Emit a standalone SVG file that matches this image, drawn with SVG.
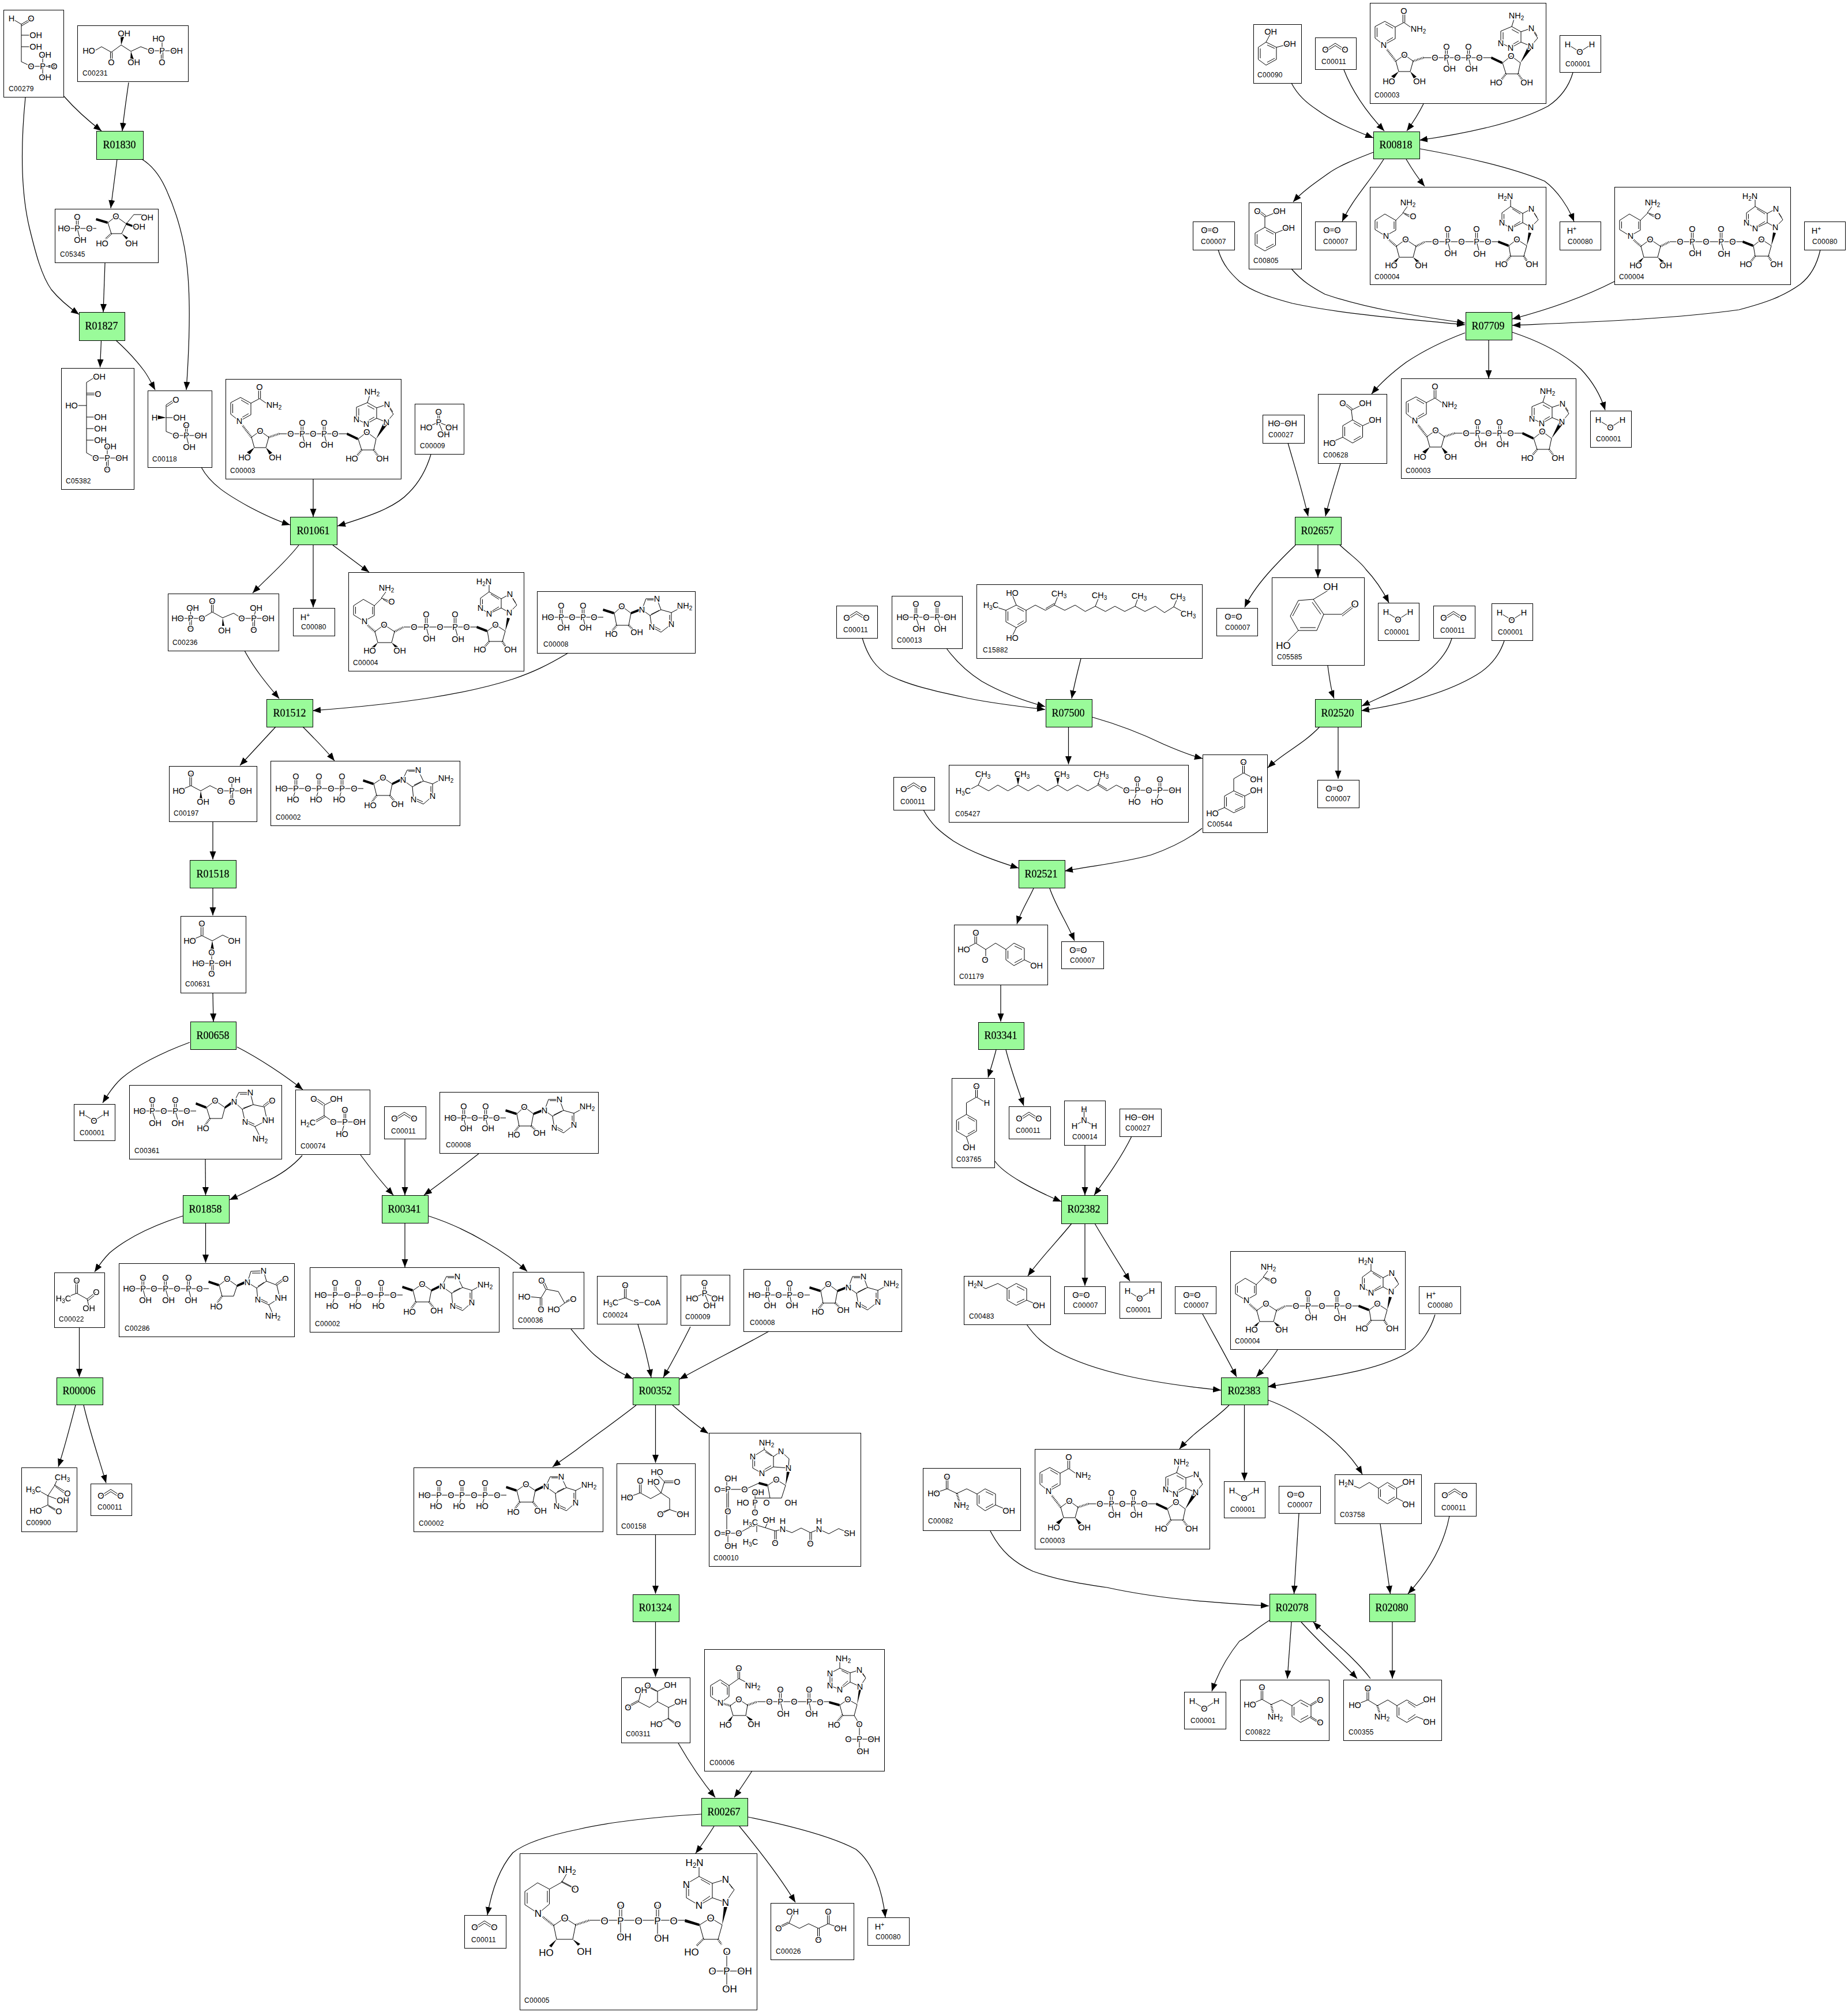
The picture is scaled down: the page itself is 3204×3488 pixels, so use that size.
<svg xmlns="http://www.w3.org/2000/svg" width="3204" height="3488" viewBox="0 0 3204 3488">
<style>
.n{fill:#fff;stroke:#000;stroke-width:1;shape-rendering:crispEdges}
.rx{fill:#9afb9a;stroke:#000;stroke-width:1;shape-rendering:crispEdges}
.b{fill:none;stroke:#000;stroke-width:1}
.w{fill:#000;stroke:none}
.h{fill:none;stroke:#000;stroke-width:3.5;stroke-dasharray:1 1.6}
.a text{font-family:"Liberation Sans",Arial,sans-serif;font-size:14.5px;text-anchor:middle;fill:#000;stroke:#fff;stroke-width:3px;paint-order:stroke}
.a tspan{font-size:10px}
.a2 text{font-size:17px}
.a2 tspan{font-size:12px}
.id{font-family:"Liberation Sans",Arial,sans-serif;font-size:12px;letter-spacing:.3px;fill:#000}
.rt{font-family:"Liberation Serif","Times New Roman",serif;font-size:18px;text-anchor:middle;fill:#000;stroke:#000;stroke-width:.25}
.e path{fill:none;stroke:#000;stroke-width:1.2;marker-end:url(#ah)}
#nodes{opacity:.999}
</style>
<defs>
<marker id="ah" markerUnits="userSpaceOnUse" markerWidth="15" markerHeight="12" refX="14" refY="5.500" orient="auto"><path d="M0,0L14,5.500L0,11Z" fill="#000"/></marker>
<g id="nad" class="a">
<path class="b" d="M24,73L9,61V41L26,32L44,42V62ZM12.500,43V59M27,36.500L40,44M40,60L29,66.500M44,42L59,34L72,43M57.300,34V20M60.700,34V20M45,101L60,90L75,101L70,119H50ZM93,95H211M131,95V80M134.400,95V80M133,95L137,110M169.300,95V80M172.700,95V80M171,95L175,110M230,104L245,92L261,104L257,123H236ZM246,41L227,49V69L244,78L262,68V50ZM231,51V67M246,46L258,52.500M262,50L280,44L291,61L279,75L262,68M258,66L245,73.500M246,41L250,28M283,46L290,57"/>
<polygon class="w" points="50,119 37,127 42,131"/><polygon class="w" points="70,119 76,131 81,128"/><polygon class="w" points="211,93 230,102 229,106 210,97"/><polygon class="w" points="261,104 274,76 280,80"/>
<path class="h" d="M45,101L29,80M75,101L93,95M236,123L228,133M257,123L264,133"/>
<text x="59" y="19">O</text><text x="84" y="50">NH<tspan dy="3">2</tspan></text><text x="24" y="78">N</text><text x="33" y="141">HO</text><text x="86" y="141">OH</text><text x="60" y="95">O</text><text x="113" y="100">O</text><text x="133" y="100">P</text><text x="133" y="81">O</text><text x="138" y="119">OH</text><text x="152" y="100">O</text><text x="171" y="100">P</text><text x="171" y="81">O</text><text x="176" y="119">OH</text><text x="190" y="100">O</text><text x="245" y="97">O</text><text x="219" y="143">HO</text><text x="272" y="143">OH</text><text x="279" y="80">N</text><text x="280" y="49">N</text><text x="244" y="83">N</text><text x="227" y="75">N</text><text x="254" y="27">NH<tspan dy="3">2</tspan></text>
</g>
<g id="nadh" class="a">
<path class="b" d="M27,85L9,74V58L26,47L45,58V75ZM12.500,60V72M42,60V73M45,58L58,45L74,51M57,45L65,34M60,47L72,54M46,103L62,91L80,103L75,122H51ZM96,95H223M133.300,95V78M136.700,95V78M135,95L139,110M183.300,95V78M186.700,95V78M185,95L189,110M241,102L255,91L272,102L267,120H244ZM244,34L229,45V62L244,72L265,62V46ZM232.500,47V60M247,38L261,47M265,46L280,38L292,57L279,70L265,62M261,60L248,68M244,34V22M283,42L290,53"/>
<polygon class="w" points="51,122 40,130 44,133"/><polygon class="w" points="75,122 82,132 86,129"/><polygon class="w" points="223,93 241,100 240,104 222,97"/><polygon class="w" points="272,102 275,79 280,80"/>
<path class="h" d="M46,103L31,90M80,103L96,95M244,120L236,130M267,120L273,130"/>
<text x="66" y="32">NH<tspan dy="3">2</tspan></text><text x="75" y="56">O</text><text x="28" y="90">N</text><text x="37" y="141">HO</text><text x="89" y="141">OH</text><text x="62" y="96">O</text><text x="114" y="100">O</text><text x="135" y="100">P</text><text x="135" y="78">O</text><text x="140" y="120">OH</text><text x="159" y="100">O</text><text x="185" y="100">P</text><text x="185" y="78">O</text><text x="190" y="121">OH</text><text x="205" y="100">O</text><text x="255" y="96">O</text><text x="228" y="139">HO</text><text x="281" y="139">OH</text><text x="279" y="75">N</text><text x="280" y="43">N</text><text x="244" y="77">N</text><text x="229" y="67">N</text><text x="235" y="21">H<tspan dy="3">2</tspan><tspan dy="-3" style="font-size:14.500px">N</tspan></text>
</g>
<g id="adp" class="a">
<path class="b" d="M19,45H115M40.300,45V30M43.700,45V30M42,45L45,58M78.300,45V30M81.700,45V30M80,45L83,58M134,38L147,26L163,38L159,59H138ZM182,32L189,13H208L215,32L196,42L182,32M191,15H206M212,33L198,40M196,42L199,62L215,71L233,57V37L215,32M202,60L214,67M230,41V54M233,37L250,28"/>
<polygon class="w" points="115,30 134,36 133,40 114,34"/><polygon class="w" points="163,36 178,30 179,34 163,40"/>
<path class="h" d="M138,59L131,68M159,59L167,67"/>
<text x="19" y="50">HO</text><text x="42" y="50">P</text><text x="42" y="30">O</text><text x="46" y="68">OH</text><text x="61" y="50">O</text><text x="80" y="50">P</text><text x="80" y="30">O</text><text x="84" y="68">OH</text><text x="99" y="50">O</text><text x="147" y="31">O</text><text x="129" y="79">HO</text><text x="173" y="76">OH</text><text x="182" y="37">N</text><text x="208" y="18">N</text><text x="199" y="67">N</text><text x="233" y="62">N</text><text x="256" y="30">NH<tspan dy="3">2</tspan></text>
</g>
<g id="atp" class="a">
<path class="b" d="M19,48H161M42.300,48V32M45.700,48V32M44,48L40,62M82.300,48V32M85.700,48V32M84,48L80,62M122.300,48V32M125.700,48V32M124,48L120,62M179,40L195,29L211,40L207,60H184ZM229,33L237,16H256L265,35L246,45L229,33M239,18H254M261,36L249,42M246,45L248,67L265,75L281,61V40L265,35M251,65L264,71M278,44V57M281,40L296,32"/>
<polygon class="w" points="161,32 179,38 178,42 160,36"/><polygon class="w" points="211,38 225,31 226,35 211,42"/>
<path class="h" d="M184,60L176,71M207,60L215,70"/>
<text x="19" y="53">HO</text><text x="44" y="53">P</text><text x="44" y="32">O</text><text x="39" y="72">HO</text><text x="65" y="53">O</text><text x="84" y="53">P</text><text x="84" y="32">O</text><text x="79" y="72">HO</text><text x="105" y="53">O</text><text x="124" y="53">P</text><text x="124" y="32">O</text><text x="119" y="72">HO</text><text x="145" y="53">O</text><text x="195" y="34">O</text><text x="173" y="82">HO</text><text x="220" y="80">OH</text><text x="230" y="38">N</text><text x="256" y="21">N</text><text x="248" y="72">N</text><text x="281" y="66">N</text><text x="304" y="35">NH<tspan dy="3">2</tspan></text>
</g>
<g id="h2o" class="a"><path class="b" d="M14,16L35,29L55,16"/><text x="14" y="21">H</text><text x="35" y="34">O</text><text x="56" y="21">H</text></g>
<g id="co2" class="a"><path class="b" d="M18,21L35,10L52,21M21,23L35,14L49,23"/><text x="18" y="26">O</text><text x="52" y="26">O</text></g>
<g id="o2" class="a"><path class="b" d="M20,13H39M20,16H39"/><text x="20" y="20">O</text><text x="39" y="20">O</text></g>
<g id="hp" class="a"><text x="21" y="21">H<tspan dy="-5">+</tspan></text></g>
<g id="pi" class="a"><path class="b" d="M40,14V32M43,14V32M41.500,32L20,41M41.500,32L64,41M41.500,32L50,53"/><text x="41.500" y="19">O</text><text x="41.500" y="37">P</text><text x="20" y="46">HO</text><text x="64" y="46">OH</text><text x="50" y="58">OH</text></g>
<g id="hooh" class="a"><path class="b" d="M22,15H47"/><text x="20" y="20">HO</text><text x="49" y="20">OH</text></g>
</defs>
<g id="nodes">
<g id="C00279-a" transform="translate(6,17)"><rect class="n" width="104" height="151"/><g class="a"><path class="b" d="M14,15L31,25L48,15M31,28L48,18M31,25V90L48,98H87M68,78V117M78,96.500H90M78,99.500H90M31,44H45M31,64H45"/><text x="14" y="20">H</text><text x="48" y="20">O</text><text x="56" y="49">OH</text><text x="56" y="69">OH</text><text x="48" y="103">O</text><text x="68" y="103">P</text><text x="88" y="103">O</text><text x="72" y="83">OH</text><text x="72" y="122">OH</text></g><text class="id" x="9" y="141">C00279</text></g>
<g id="C00231-a" transform="translate(134,44)"><rect class="n" width="192" height="97"/><g class="a"><path class="b" d="M30,44L42,37L59,46.500L76,34L93,45L110,37L128,44H171M57.500,46.500V60M60.500,46.500V60M147,28V44M145.500,44V60M148.500,44V60"/><polygon class="w" points="76,34 75,20 81,20"/><polygon class="w" points="93,45 92,59 98,59"/><text x="20" y="49">HO</text><text x="59" y="69">O</text><text x="81" y="19">OH</text><text x="98" y="69">OH</text><text x="128" y="49">O</text><text x="147" y="49">P</text><text x="141" y="28">HO</text><text x="172" y="49">OH</text><text x="147" y="69">O</text></g><text class="id" x="9" y="87">C00231</text></g>
<g id="C05345-a" transform="translate(95,362)"><rect class="n" width="179" height="93"/><g class="a"><path class="b" d="M16,34H72M37.300,34V15M40.700,34V15M39,34L43,50M92,24L106,13L124,26L116,43H98ZM124,26L137,10H152"/><polygon class="w" points="72,16 92,22 91,26 71,20"/><polygon class="w" points="124,24 140,30 139,33 124,28"/><polygon class="w" points="116,43 124,53 127,50"/><path class="h" d="M98,43L88,52"/><text x="16" y="39">HO</text><text x="39" y="39">P</text><text x="39" y="19">O</text><text x="44" y="59">OH</text><text x="60" y="39">O</text><text x="106" y="18">O</text><text x="82" y="65">HO</text><text x="133" y="65">OH</text><text x="146" y="36">OH</text><text x="160" y="20">OH</text></g><text class="id" x="9" y="83">C05345</text></g>
<g id="C05382-a" transform="translate(106,638)"><rect class="n" width="126" height="210"/><g class="a"><path class="b" d="M44,25L60,15M44,25V147L60,156H105M44,43.500H63M44,46.500H63M28,65H44M44,85H60M44,105H60M44,125H60M78.500,156V176M81.500,156V176M80,136V156"/><text x="66" y="20">OH</text><text x="64" y="50">O</text><text x="18" y="70">HO</text><text x="68" y="90">OH</text><text x="68" y="110">OH</text><text x="68" y="130">OH</text><text x="60" y="161">O</text><text x="80" y="161">P</text><text x="85" y="141">OH</text><text x="105" y="161">OH</text><text x="80" y="181">O</text></g><text class="id" x="8" y="200">C05382</text></g>
<g id="C00118-a" transform="translate(256,677)"><rect class="n" width="111" height="133"/><g class="a"><path class="b" d="M32,25L47,15M33,28L48,18M32,25V71L49,78H92M65.500,60V78M68.500,60V78M67,78L71,94M32,47H48"/><polygon class="w" points="32,47 17,43 17,50"/><text x="49" y="21">O</text><text x="12" y="52">H</text><text x="55" y="52">OH</text><text x="49" y="83">O</text><text x="67" y="83">P</text><text x="67" y="65">O</text><text x="92" y="83">OH</text><text x="72" y="103">OH</text></g><text class="id" x="8" y="123">C00118</text></g>
<g id="C00003-a" transform="translate(391,657)"><rect class="n" width="304" height="173"/><use href="#nad"/><text class="id" x="8" y="163">C00003</text></g>
<g id="C00009-a" transform="translate(719,700)"><rect class="n" width="85" height="87"/><use href="#pi"/><text class="id" x="9" y="77">C00009</text></g>
<g id="C00236-a" transform="translate(291,1029)"><rect class="n" width="192" height="99"/><g class="a"><path class="b" d="M17,43H59L77,32L95,42L114,34L128,43H174M38,43V61M41,43V61M39.500,25V43M75.500,32V13M78.500,32V13M147.500,43V63M150.500,43V63M149,43L153,25"/><polygon class="w" points="95,42 94,56 98,56"/><text x="17" y="48">HO</text><text x="39.500" y="48">P</text><text x="43" y="30">OH</text><text x="39.500" y="66">O</text><text x="59" y="48">O</text><text x="77" y="18">O</text><text x="98" y="69">OH</text><text x="128" y="48">O</text><text x="149" y="48">P</text><text x="153" y="30">OH</text><text x="174" y="48">OH</text><text x="149" y="68">O</text></g><text class="id" x="8" y="89">C00236</text></g>
<g id="C00080-a" transform="translate(508,1054)"><rect class="n" width="72" height="48"/><use href="#hp"/><text class="id" x="14" y="37">C00080</text></g>
<g id="C00004-a" transform="translate(604,992)"><rect class="n" width="304" height="171"/><use href="#nadh"/><text class="id" x="8" y="161">C00004</text></g>
<g id="C00008-a" transform="translate(931,1025)"><rect class="n" width="274" height="107"/><use href="#adp"/><text class="id" x="11" y="96">C00008</text></g>
<g id="C00197-a" transform="translate(293,1328)"><rect class="n" width="152" height="96"/><g class="a"><path class="b" d="M17,43L38,34L55,43L71,34L89,43H133M36,34V13M39,34V13M107.500,43V62M110.500,43V62M109,24V43"/><polygon class="w" points="55,43 53,58 58,58"/><text x="17" y="48">HO</text><text x="38" y="18">O</text><text x="59" y="67">OH</text><text x="89" y="48">O</text><text x="109" y="48">P</text><text x="113" y="29">OH</text><text x="133" y="48">OH</text><text x="109" y="67">O</text></g><text class="id" x="8" y="86">C00197</text></g>
<g id="C00002-a" transform="translate(469,1319)"><rect class="n" width="328" height="112"/><use href="#atp"/><text class="id" x="9" y="102">C00002</text></g>
<g id="C00631-a" transform="translate(313,1588)"><rect class="n" width="113" height="133"/><g class="a"><path class="b" d="M16,43L37,34L55,43L73,33L93,43M35.500,34V13M39,34V13M31,82H77M54,82V100M57,82V100M54,63V82"/><polygon class="w" points="55,43 52,58 58,58"/><text x="16" y="48">HO</text><text x="37" y="18">O</text><text x="93" y="48">OH</text><text x="54" y="68">O</text><text x="54" y="87">P</text><text x="31" y="87">HO</text><text x="77" y="87">OH</text><text x="54" y="105">O</text></g><text class="id" x="8" y="122">C00631</text></g>
<g id="C00001-c" transform="translate(128,1914)"><rect class="n" width="71" height="63"/><use href="#h2o"/><text class="id" x="10" y="54">C00001</text></g>
<g id="C00361-a" transform="translate(224,1881)"><rect class="n" width="264" height="128"/><g class="a"><path class="b" d="M17,45H116M38.300,45V26M41.700,45V26M40,45L45,60M78.300,45V26M81.700,45V26M80,45L84,60M134,39L149,27L166,39L161,58H140ZM182,29L190,13H210L215,34L196,42L182,29M192,16H208M212,35L198,40M196,42L201,64L218,72L239,61L234,38L215,34M204,62L217,68M234,38L248,27M232,36L246,25M218,72L227,90"/><polygon class="w" points="116,30 134,37 133,41 115,34"/><polygon class="w" points="166,37 178,28 180,32 166,41"/><path class="h" d="M140,58L130,72"/><text x="18" y="50">HO</text><text x="40" y="50">P</text><text x="40" y="31">O</text><text x="45" y="71">OH</text><text x="60" y="50">O</text><text x="80" y="50">P</text><text x="80" y="31">O</text><text x="84" y="71">OH</text><text x="100" y="50">O</text><text x="149" y="32">O</text><text x="128" y="80">HO</text><text x="182" y="34">N</text><text x="210" y="18">N</text><text x="201" y="69">N</text><text x="241" y="66">NH</text><text x="248" y="32">O</text><text x="227" y="98">NH<tspan dy="3">2</tspan></text></g><text class="id" x="9" y="118">C00361</text></g>
<g id="C00074-a" transform="translate(512,1889)"><rect class="n" width="129" height="112"/><g class="a"><path class="b" d="M32,16L48,27M35,14L51,25M50,27L71,16M50,27V45M50,45L66,56H111M50,45L34,54M52,47L36,56M84.500,56V35M87.500,56V35M86,56L81,73"/><text x="32" y="21">O</text><text x="71" y="21">OH</text><text x="22" y="62">H<tspan dy="3">2</tspan><tspan dy="-3" style="font-size:14.500px">C</tspan></text><text x="66" y="61">O</text><text x="86" y="61">P</text><text x="86" y="40">O</text><text x="111" y="61">OH</text><text x="81" y="82">HO</text></g><text class="id" x="9" y="102">C00074</text></g>
<g id="C00011-d" transform="translate(666,1918)"><rect class="n" width="72" height="56"/><use href="#co2"/><text class="id" x="12" y="47">C00011</text></g>
<g id="C00008-b" transform="translate(762,1893)"><rect class="n" width="275" height="106"/><use href="#adp"/><text class="id" x="11" y="96">C00008</text></g>
<g id="C00022-a" transform="translate(94,2206)"><rect class="n" width="87" height="95"/><g class="a"><path class="b" d="M37.500,14V36M40.500,14V36M26,41L39,36L57,46L72,34M58,49L73,37M57,46L60,58"/><text x="39" y="19">O</text><text x="16" y="50">H<tspan dy="3">3</tspan><tspan dy="-3" style="font-size:14.500px">C</tspan></text><text x="73" y="39">O</text><text x="60" y="67">OH</text></g><text class="id" x="8" y="85">C00022</text></g>
<g id="C00286-a" transform="translate(206,2190)"><rect class="n" width="304" height="127"/><g class="a"><path class="b" d="M18,44H156M40,44V25M43.400,44V25M41.700,44L46,60M79,44V25M82.400,44V25M80.700,44L85.700,60M119,44V25M122.400,44V25M120.700,44L125,60M174,38L188,27L205,39L199,57H179ZM223,33L229,14L251,13L256,31L239,43L223,33M231,17H249M252,33L241,40M239,43L241,63L260,72L279,60L274,38L256,31M244,61L258,68M274,38L289,27M272,36L287,25M260,72L267,88"/><polygon class="w" points="156,30 174,36 173,40 155,34"/><polygon class="w" points="205,37 218,31 220,35 205,41"/><path class="h" d="M179,57L171,68"/><text x="18" y="49">HO</text><text x="42" y="49">P</text><text x="42" y="30">O</text><text x="46" y="69">OH</text><text x="61" y="49">O</text><text x="81" y="49">P</text><text x="81" y="30">O</text><text x="86" y="69">OH</text><text x="101" y="49">O</text><text x="121" y="49">P</text><text x="121" y="30">O</text><text x="125" y="69">OH</text><text x="140" y="49">O</text><text x="188" y="32">O</text><text x="169" y="80">HO</text><text x="223" y="38">N</text><text x="251" y="18">N</text><text x="241" y="68">N</text><text x="281" y="65">NH</text><text x="289" y="32">O</text><text x="267" y="96">NH<tspan dy="3">2</tspan></text></g><text class="id" x="10" y="117">C00286</text></g>
<g id="C00002-b" transform="translate(537,2197)"><rect class="n" width="328" height="112"/><use href="#atp"/><text class="id" x="9" y="102">C00002</text></g>
<g id="C00036-a" transform="translate(889,2205)"><rect class="n" width="123" height="98"/><g class="a"><path class="b" d="M30,43L49,45L58,30L79,34L90,54L104,47M47.500,45V65M50.500,45V65M57,30L50,15M60,29L53,14M90,54L78,63M92,51L105,44"/><text x="20" y="48">HO</text><text x="49" y="70">O</text><text x="50" y="20">O</text><text x="105" y="52">O</text><text x="71" y="70">HO</text></g><text class="id" x="9" y="88">C00036</text></g>
<g id="C00024-a" transform="translate(1035,2212)"><rect class="n" width="121" height="83"/><g class="a"><path class="b" d="M47.500,16V38M50.500,16V38M30,44L49,38L68,46H82"/><text x="49" y="21">O</text><text x="24" y="51">H<tspan dy="3">3</tspan><tspan dy="-3" style="font-size:14.500px">C</tspan></text><text x="68" y="51">S</text><text x="96" y="51">CoA</text></g><text class="id" x="10" y="72">C00024</text></g>
<g id="C00009-b" transform="translate(1180,2210)"><rect class="n" width="85" height="87"/><use href="#pi"/><text class="id" x="8" y="77">C00009</text></g>
<g id="C00008-c" transform="translate(1289,2200)"><rect class="n" width="274" height="108"/><use href="#adp"/><text class="id" x="11" y="97">C00008</text></g>
<g id="C00900-a" transform="translate(37,2544)"><rect class="n" width="96" height="111"/><g class="a"><path class="b" d="M62,21L58,31L46,49L30,40M57,30L78,43M59,33L76,46M46,49L62,55M46,49V65L31,72M46,65L62,74M47,67L63,77"/><text x="71" y="22">CH<tspan dy="3">3</tspan></text><text x="80" y="50">O</text><text x="21" y="43">H<tspan dy="3">3</tspan><tspan dy="-3" style="font-size:14.500px">C</tspan></text><text x="72" y="62">OH</text><text x="25" y="80">HO</text><text x="65" y="81">O</text></g><text class="id" x="8" y="100">C00900</text></g>
<g id="C00011-c" transform="translate(157,2572)"><rect class="n" width="71" height="55"/><use href="#co2"/><text class="id" x="12" y="45">C00011</text></g>
<g id="C00002-c" transform="translate(717,2544)"><rect class="n" width="328" height="111"/><use href="#atp"/><text class="id" x="9" y="101">C00002</text></g>
<g id="C00158-a" transform="translate(1069,2537)"><rect class="n" width="136" height="123"/><g class="a"><path class="b" d="M77,51L83,32L70,18M83,30.500H103M83,33.500H103M77,51L65,37M77,51L59,61L41,51L19,59M39.500,51V31M42.500,51V31M77,51L92,61V80L76,88M90.500,80L75,86M92,80L115,88"/><text x="70" y="20">HO</text><text x="105" y="37">O</text><text x="64" y="37">HO</text><text x="41" y="35">O</text><text x="18" y="64">HO</text><text x="76" y="93">O</text><text x="115" y="93">OH</text></g><text class="id" x="8" y="113">C00158</text></g>
<g id="C00010-a" transform="translate(1229,2484)"><rect class="n" width="263" height="231"/><g class="a"><path class="b" d="M96,29L76,41.500V61L92,70L112,59V41ZM79.500,44V58M98,33L109,40M108,57L94,65M112,41L125,32L139,45L138,61L112,59M96,29V22M102,91L117,81L133,91L126,113H106ZM87,87L63,98H33M31,79V174M34,98V136M16,96.500H33M16,99.500H33M16,172.500H33M16,175.500H33M33,174H52L68,165L83,160L99.500,165L115,170L128,167L144,173L160,165L176,173L191,167L208,175L225,166L244,174M83,160V150M83,160L83,172M97.500,165L102,155M114,170V191M117,170V191M175,173V192M178,173V192M106,113H80M80,103V138M33,174V196"/><polygon class="w" points="133,91 135,67 140,68"/><polygon class="w" points="87,85 102,89 101,93 86,89"/><text x="100" y="22">NH<tspan dy="3">2</tspan></text><text x="76" y="46">N</text><text x="92" y="75">N</text><text x="125" y="37">N</text><text x="138" y="66">N</text><text x="117" y="86">O</text><text x="142" y="126">OH</text><text x="62" y="103">O</text><text x="33" y="103">P</text><text x="15" y="103">O</text><text x="38" y="84">OH</text><text x="33" y="141">O</text><text x="33" y="179">P</text><text x="15" y="179">O</text><text x="38" y="201">OH</text><text x="52" y="179">O</text><text x="100" y="126">O</text><text x="80" y="126">P</text><text x="59" y="126">HO</text><text x="85" y="108">OH</text><text x="80" y="143">O</text><text x="72" y="160">H<tspan dy="3">3</tspan><tspan dy="-3" style="font-size:14.500px">C</tspan></text><text x="72" y="194">H<tspan dy="3">3</tspan><tspan dy="-3" style="font-size:14.500px">C</tspan></text><text x="104" y="156">OH</text><text x="115" y="196">O</text><text x="128" y="172">N</text><text x="128" y="158">H</text><text x="176" y="197">O</text><text x="191" y="172">N</text><text x="191" y="158">H</text><text x="244" y="179">SH</text></g><text class="id" x="8" y="221">C00010</text></g>
<g id="C00311-a" transform="translate(1077,2908)"><rect class="n" width="119" height="113"/><g class="a"><path class="b" d="M34,27L30,42L12,52M29,40L11,50M30,42L49,52L63,42L82,52V71L98,81M80.500,71L96,83M82,71L61,81M63,42V24L46,14M61.500,24L45,16M63,24L85,13M82,52L103,42"/><text x="34" y="27">OH</text><text x="12" y="57">O</text><text x="46" y="19">O</text><text x="85" y="18">OH</text><text x="103" y="47">OH</text><text x="61" y="86">HO</text><text x="98" y="86">O</text></g><text class="id" x="8" y="102">C00311</text></g>
<g id="C00006-a" transform="translate(1221,2859)"><rect class="n" width="312" height="211"/><g class="a"><path class="b" d="M27.500,93L11,82V63L27.500,53L43,63V82L30,92M14.500,65V80M29,58L40,65M40,66V79M43,63L60,51L84,63M58.500,51V33M61.500,51V33M45,98L60,87L75,97L72,115H50ZM92,91H217M130.300,91V70M133.700,91V70M132,91L136,107M180,91V70M183.300,91V70M181.600,91L185,107M235,97L249,87L265,96L260,115H240ZM260,115L269,130V178M250,156H294M235,33L218,42V63L235,70L253,57V41ZM221.500,45V60M238,37L250,43M249,55L237,66M253,41L269,36L280,50L270,65L253,57M235,33V22M272,38L279,48"/><polygon class="w" points="50,115 40,125 44,128"/><polygon class="w" points="72,115 80,125 84,122"/><polygon class="w" points="217,90 235,95 234,99 216,94"/><polygon class="w" points="265,96 268,70 272,70"/><path class="h" d="M45,98L31,94M75,97L92,91M240,114L231,125"/><text x="60" y="38">O</text><text x="84" y="68">NH<tspan dy="3">2</tspan></text><text x="28" y="98">N</text><text x="37" y="136">HO</text><text x="86" y="135">OH</text><text x="60" y="92">O</text><text x="113" y="96">O</text><text x="132" y="96">P</text><text x="132" y="75">O</text><text x="137" y="117">OH</text><text x="156" y="96">O</text><text x="182" y="96">P</text><text x="182" y="75">O</text><text x="186" y="117">OH</text><text x="201" y="97">O</text><text x="249" y="92">O</text><text x="225" y="136">HO</text><text x="269" y="135">O</text><text x="269" y="161">P</text><text x="250" y="161">O</text><text x="294" y="161">OH</text><text x="275" y="182">OH</text><text x="270" y="70">N</text><text x="269" y="41">N</text><text x="235" y="75">N</text><text x="218" y="68">N</text><text x="218" y="47">N</text><text x="241" y="21">NH<tspan dy="3">2</tspan></text></g><text class="id" x="9" y="201">C00006</text></g>
<g id="C00011-e" transform="translate(805,3320)"><rect class="n" width="72" height="57"/><use href="#co2"/><text class="id" x="12" y="47">C00011</text></g>
<g id="C00005-a" transform="translate(901,3213)"><rect class="n" width="411" height="271"/><g class="a a2"><path class="b" d="M32,104L9,89V66L31,51L51.500,62V88L36,101M13,68V87M48,65V85M51.500,62L73,50L96,62M73,50L81,36M72,48L95,60M59,125L78,112L97,124L92,149H64ZM121,116H287M173,117V90M177,117V90M175,117V145M237,117V90M241,117V90M239,117V146M312,124L331,112L351,124L344,149H319ZM359,170V234M334,204H390M311,40L289,53V77L311,90L334,77V52ZM293,56V74M314,45L330,54M330,74L314,85M334,52L357,45L372,63L357,85L334,77M311,40V24M360,48L369,61"/><polygon class="w" points="64,149 51,160 55,163"/><polygon class="w" points="92,149 101,160 105,157"/><polygon class="w" points="287,114 312,122 311,126 286,119"/><polygon class="w" points="351,124 354,93 360,93"/><path class="h" d="M59,125L40,110M97,124L121,116M319,148L307,160M344,149L350,158"/><text x="82" y="34">NH<tspan dy="3">2</tspan></text><text x="96" y="68">O</text><text x="32" y="110">N</text><text x="46" y="178">HO</text><text x="112" y="176">OH</text><text x="78" y="118">O</text><text x="147" y="123">O</text><text x="175" y="123">P</text><text x="175" y="96">O</text><text x="181" y="151">OH</text><text x="206" y="123">O</text><text x="239" y="123">P</text><text x="239" y="96">O</text><text x="246" y="153">OH</text><text x="267" y="123">O</text><text x="331" y="118">O</text><text x="298" y="177">HO</text><text x="359" y="176">O</text><text x="359" y="210">P</text><text x="334" y="210">O</text><text x="390" y="210">OH</text><text x="364" y="241">OH</text><text x="357" y="91">N</text><text x="357" y="51">N</text><text x="311" y="96">N</text><text x="289" y="60">N</text><text x="303" y="22">H<tspan dy="3">2</tspan><tspan dy="-3" style="font-size:17px">N</tspan></text></g><text class="id" x="8" y="259">C00005</text></g>
<g id="C00026-a" transform="translate(1336,3299)"><rect class="n" width="144" height="98"/><g class="a"><path class="b" d="M38,20L32,35L14,44M31,33L13,42M32,35L50,44L66,36L83,44L100,36L121,44M81.500,44V64M84.500,44V64M98.500,36V15M101.500,36V15"/><text x="38" y="20">OH</text><text x="14" y="49">O</text><text x="83" y="69">O</text><text x="100" y="20">O</text><text x="121" y="49">OH</text></g><text class="id" x="9" y="88">C00026</text></g>
<g id="C00080-e" transform="translate(1504,3324)"><rect class="n" width="72" height="48"/><use href="#hp"/><text class="id" x="14" y="38">C00080</text></g>
<g id="C00090-a" transform="translate(2173,42)"><rect class="n" width="83" height="102"/><g class="a"><path class="b" d="M30,16L22,31L40,40V61L22,71L8.500,61V40L22,31M12,42V59M24,36L37,42M37,59L24,66M40,40L63,34"/><text x="30" y="18">OH</text><text x="63" y="39">OH</text></g><text class="id" x="7" y="92">C00090</text></g>
<g id="C00011-a" transform="translate(2280,65)"><rect class="n" width="71" height="55"/><use href="#co2"/><text class="id" x="11" y="46">C00011</text></g>
<g id="C00003-e" transform="translate(2375,5)"><rect class="n" width="305" height="174"/><use href="#nad"/><text class="id" x="8" y="164">C00003</text></g>
<g id="C00001-a" transform="translate(2704,61)"><rect class="n" width="71" height="64"/><use href="#h2o"/><text class="id" x="10" y="54">C00001</text></g>
<g id="C00805-a" transform="translate(2165,351)"><rect class="n" width="91" height="115"/><g class="a"><path class="b" d="M15,15L28,25L53,15M17,13L30,23M28,25V43M28,43L46.500,53V74L28,84L11,74V53ZM14.500,55V72M30,48L43,55M43,72L30,79M46.500,53L69,44"/><text x="15" y="20">O</text><text x="53" y="20">OH</text><text x="69" y="49">OH</text></g><text class="id" x="8" y="105">C00805</text></g>
<g id="C00007-a" transform="translate(2280,384)"><rect class="n" width="71" height="49"/><use href="#o2"/><text class="id" x="14" y="39">C00007</text></g>
<g id="C00004-b" transform="translate(2375,324)"><rect class="n" width="305" height="169"/><use href="#nadh"/><text class="id" x="8" y="160">C00004</text></g>
<g id="C00080-a2" transform="translate(2704,384)"><rect class="n" width="71" height="49"/><use href="#hp"/><text class="id" x="14" y="39">C00080</text></g>
<g id="C00007-b" transform="translate(2068,384)"><rect class="n" width="72" height="49"/><use href="#o2"/><text class="id" x="14" y="39">C00007</text></g>
<g id="C00004-c" transform="translate(2799,324)"><rect class="n" width="305" height="169"/><use href="#nadh"/><text class="id" x="8" y="160">C00004</text></g>
<g id="C00080-b" transform="translate(3128,384)"><rect class="n" width="71" height="49"/><use href="#hp"/><text class="id" x="14" y="39">C00080</text></g>
<g id="C00628-a" transform="translate(2285,683)"><rect class="n" width="119" height="120"/><g class="a"><path class="b" d="M43,16L58,28L82,16M45,14L60,26M58,28L60,45L77.500,55V75L60,85L43,75V55L60,45M46.500,57V73M62,50L74,57M74,73L62,80M77.500,55L99,45M43,75L20,85"/><text x="43" y="21">O</text><text x="82" y="21">OH</text><text x="99" y="50">OH</text><text x="20" y="90">HO</text></g><text class="id" x="9" y="110">C00628</text></g>
<g id="C00003-f" transform="translate(2429,656)"><rect class="n" width="303" height="173"/><use href="#nad"/><text class="id" x="8" y="164">C00003</text></g>
<g id="C00001-b" transform="translate(2757,712)"><rect class="n" width="71" height="63"/><use href="#h2o"/><text class="id" x="10" y="53">C00001</text></g>
<g id="C00027-a" transform="translate(2189,719)"><rect class="n" width="72" height="49"/><use href="#hooh"/><text class="id" x="10" y="39">C00027</text></g>
<g id="C00007-c" transform="translate(2109,1054)"><rect class="n" width="71" height="48"/><use href="#o2"/><text class="id" x="15" y="38">C00007</text></g>
<g id="C05585-a" transform="translate(2205,1001)"><rect class="n" width="160" height="152"/><g class="a a2"><path class="b" d="M102,20L72,38L90,64L78,92H46L32,67L46,40L72,38M36,67L48,45M70,43L85,64M76,87H49M90,64H121L144,46M122,67L145,49M46,92L20,118"/><text x="102" y="22">OH</text><text x="144" y="52">O</text><text x="20" y="124">HO</text></g><text class="id" x="9" y="142">C05585</text></g>
<g id="C00001-d" transform="translate(2389,1045)"><rect class="n" width="71" height="65"/><use href="#h2o"/><text class="id" x="11" y="55">C00001</text></g>
<g id="C00011-b" transform="translate(2485,1050)"><rect class="n" width="72" height="56"/><use href="#co2"/><text class="id" x="12" y="47">C00011</text></g>
<g id="C00001-h" transform="translate(2586,1046)"><rect class="n" width="71" height="64"/><use href="#h2o"/><text class="id" x="11" y="54">C00001</text></g>
<g id="C00011-f" transform="translate(1450,1050)"><rect class="n" width="71" height="56"/><use href="#co2"/><text class="id" x="12" y="46">C00011</text></g>
<g id="C00013-a" transform="translate(1546,1033)"><rect class="n" width="122" height="91"/><g class="a"><path class="b" d="M19,37H101M40.500,37V14M43.500,37V14M42,37L47,52M77,37V14M80.200,37V14M78.600,37L84,52"/><text x="42" y="19">O</text><text x="42" y="42">P</text><text x="19" y="42">HO</text><text x="60" y="42">O</text><text x="79" y="42">P</text><text x="79" y="19">O</text><text x="101" y="42">OH</text><text x="47" y="62">OH</text><text x="84" y="62">OH</text></g><text class="id" x="9" y="81">C00013</text></g>
<g id="C15882-a" transform="translate(1693,1013)"><rect class="n" width="391" height="128"/><g class="a"><path class="b" d="M69,36L86,45V65L69,75L51,65V45ZM54.500,47V63M71,41L82,47M82,63L71,70M69,36L62,18M69,75L62,90M51,45L30,38M86,45L102,36L119.500,45L135,36L153,45L171,36L188.500,47L206,38L223.500,47L240,38L257,47L275,38L292,47L310,38L326,49L342,39L360,49M120,42L135,33M135,36L141,21M206,38L212,23M275,38L280,24M342,39L348,25"/><text x="62" y="20">HO</text><text x="25" y="41">H<tspan dy="3">3</tspan><tspan dy="-3" style="font-size:14.500px">C</tspan></text><text x="62" y="98">HO</text><text x="143" y="21">CH<tspan dy="3">3</tspan></text><text x="213" y="24">CH<tspan dy="3">3</tspan></text><text x="282" y="25">CH<tspan dy="3">3</tspan></text><text x="349" y="26">CH<tspan dy="3">3</tspan></text><text x="367" y="56">CH<tspan dy="3">3</tspan></text></g><text class="id" x="11" y="118">C15882</text></g>
<g id="C05427-a" transform="translate(1645,1326)"><rect class="n" width="415" height="99"/><g class="a"><path class="b" d="M38,42L51,35L69,45L85,35L102.500,45L120,35L137.600,45L155,35L171,45L189,35L205.600,45L223,35L241,45L258.500,35L274,45L290.500,35L308,44H392M51,35L57,22M258,32L274,42M325.300,44V25M328.700,44V25M327,44L322,58M364.300,44V25M367.700,44V25M366,44L361,58M258.500,35L263,21"/><polygon class="w" points="120,35 117,21 123,21"/><polygon class="w" points="189,35 186,21 192,21"/><text x="25" y="50">H<tspan dy="3">3</tspan><tspan dy="-3" style="font-size:14.500px">C</tspan></text><text x="59" y="21">CH<tspan dy="3">3</tspan></text><text x="127" y="21">CH<tspan dy="3">3</tspan></text><text x="196" y="21">CH<tspan dy="3">3</tspan></text><text x="264" y="21">CH<tspan dy="3">3</tspan></text><text x="308" y="49">O</text><text x="327" y="49">P</text><text x="327" y="30">O</text><text x="322" y="69">HO</text><text x="347" y="49">O</text><text x="366" y="49">P</text><text x="366" y="30">O</text><text x="361" y="69">HO</text><text x="392" y="49">OH</text></g><text class="id" x="11" y="89">C05427</text></g>
<g id="C00544-a" transform="translate(2085,1308)"><rect class="n" width="112" height="135"/><g class="a"><path class="b" d="M69.500,13V32M72.500,13V32M71,32L92,43M71,32L54,42V63L73,72V92L54,101L38,92V72L54,63M41.500,74V90M56,68L70,74M70,90L56,97M73,72L92,62M38,92L17,101"/><text x="71" y="18">O</text><text x="93" y="48">OH</text><text x="93" y="67">OH</text><text x="17" y="107">HO</text></g><text class="id" x="8" y="125">C00544</text></g>
<g id="C00007-d" transform="translate(2284,1352)"><rect class="n" width="72" height="48"/><use href="#o2"/><text class="id" x="14" y="37">C00007</text></g>
<g id="C00011-g" transform="translate(1549,1347)"><rect class="n" width="71" height="57"/><use href="#co2"/><text class="id" x="12" y="47">C00011</text></g>
<g id="C01179-a" transform="translate(1654,1603)"><rect class="n" width="162" height="104"/><g class="a"><path class="b" d="M36,14V32M39.200,14V32M37.600,32L17,43M37.600,32L55,43L72,32L90,43M55,43V61M90,43L104,32L122,41V61L104,71L90,61ZM93.500,45V59M105,37L118,43M118,59L105,66M122,61L143,71"/><text x="38" y="19">O</text><text x="17" y="48">HO</text><text x="54" y="66">O</text><text x="143" y="76">OH</text></g><text class="id" x="9" y="94">C01179</text></g>
<g id="C00007-e" transform="translate(1840,1632)"><rect class="n" width="73" height="47"/><use href="#o2"/><text class="id" x="15" y="37">C00007</text></g>
<g id="C03765-a" transform="translate(1650,1869)"><rect class="n" width="74" height="155"/><g class="a"><path class="b" d="M41.500,14V33M44.500,14V33M43,33L60,43M43,33L25.500,43V63L43,73V92L25.500,102L8.300,92V73L25.500,63M12,75V90M28,68L40,75M40,90L28,97M25.500,102L30,116"/><text x="43" y="19">O</text><text x="61" y="48">H</text><text x="30" y="125">OH</text></g><text class="id" x="8" y="145">C03765</text></g>
<g id="C00011-h" transform="translate(1749,1918)"><rect class="n" width="72" height="56"/><use href="#co2"/><text class="id" x="12" y="46">C00011</text></g>
<g id="C00014-a" transform="translate(1845,1908)"><rect class="n" width="71" height="77"/><g class="a"><path class="b" d="M34.500,15V34M34.500,34L18,44M34.500,34L52,44"/><text x="34.500" y="20">H</text><text x="34.500" y="39">N</text><text x="18" y="49">H</text><text x="52" y="49">H</text></g><text class="id" x="14" y="67">C00014</text></g>
<g id="C00027-b" transform="translate(1941,1922)"><rect class="n" width="72" height="48"/><use href="#hooh"/><text class="id" x="10" y="38">C00027</text></g>
<g id="C00483-a" transform="translate(1671,2212)"><rect class="n" width="150" height="84"/><g class="a"><path class="b" d="M24,15L38,22L59,13L75,22L91,13L109,22V42L91,51L75,42V22M78.500,24V40M92,18L105,25M105,40L92,46M109,42L130,51"/><text x="20" y="18">H<tspan dy="3">2</tspan><tspan dy="-3" style="font-size:14.500px">N</tspan></text><text x="130" y="56">OH</text></g><text class="id" x="9" y="74">C00483</text></g>
<g id="C00007-f" transform="translate(1845,2230)"><rect class="n" width="71" height="47"/><use href="#o2"/><text class="id" x="15" y="37">C00007</text></g>
<g id="C00001-e" transform="translate(1941,2222)"><rect class="n" width="72" height="63"/><use href="#h2o"/><text class="id" x="11" y="53">C00001</text></g>
<g id="C00007-g" transform="translate(2037,2230)"><rect class="n" width="71" height="47"/><use href="#o2"/><text class="id" x="15" y="37">C00007</text></g>
<g id="C00004-d" transform="translate(2133,2169)"><rect class="n" width="303" height="170"/><use href="#nadh"/><text class="id" x="8" y="160">C00004</text></g>
<g id="C00080-c" transform="translate(2460,2230)"><rect class="n" width="72" height="47"/><use href="#hp"/><text class="id" x="15" y="37">C00080</text></g>
<g id="C00082-a" transform="translate(1600,2545)"><rect class="n" width="169" height="108"/><g class="a"><path class="b" d="M40.500,15V36M43.500,15V36M42,36L19,44M42,36L59,44L76,36L94,45L108,36L126,45V64L108,74L94,64V45M97.500,47V62M109,41L122,47M122,62L109,69M126,64L149,74"/><path class="h" d="M59,44L63,58"/><text x="42" y="20">O</text><text x="19" y="49">HO</text><text x="67" y="69">NH<tspan dy="3">2</tspan></text><text x="149" y="79">OH</text></g><text class="id" x="9" y="96">C00082</text></g>
<g id="C00003-g" transform="translate(1794,2512)"><rect class="n" width="303" height="173"/><use href="#nad"/><text class="id" x="9" y="163">C00003</text></g>
<g id="C00001-f" transform="translate(2122,2568)"><rect class="n" width="71" height="63"/><use href="#h2o"/><text class="id" x="11" y="53">C00001</text></g>
<g id="C00007-h" transform="translate(2217,2576)"><rect class="n" width="72" height="47"/><use href="#o2"/><text class="id" x="15" y="37">C00007</text></g>
<g id="C03758-a" transform="translate(2314,2556)"><rect class="n" width="150" height="85"/><g class="a"><path class="b" d="M26,17L43,24L60,14L76,24L91.500,14L107.500,24V41L91.500,51L76,41V24M79.500,26V39M93,19L104,26M104,39L93,46M107.500,24L128,13M107.500,41L128,52"/><text x="20" y="19">H<tspan dy="3">2</tspan><tspan dy="-3" style="font-size:14.500px">N</tspan></text><text x="128" y="18">OH</text><text x="128" y="57">OH</text></g><text class="id" x="9" y="74">C03758</text></g>
<g id="C00011-i" transform="translate(2487,2571)"><rect class="n" width="72" height="57"/><use href="#co2"/><text class="id" x="12" y="47">C00011</text></g>
<g id="C00001-g" transform="translate(2053,2933)"><rect class="n" width="72" height="64"/><use href="#h2o"/><text class="id" x="11" y="54">C00001</text></g>
<g id="C00822-a" transform="translate(2150,2912)"><rect class="n" width="154" height="105"/><g class="a"><path class="b" d="M36.500,13V34M39.500,13V34M38,34L17,43M38,34L54,43L72,35L90,45L105,35L123,45V64L105,74L90,64V45M93.500,47V62M105,40L118,47M118,62L105,69M123,45L139,35M122,43L138,33M123,64L139,74M122,66L138,76"/><path class="h" d="M54,43L57,57"/><text x="38" y="18">O</text><text x="17" y="48">HO</text><text x="61" y="69">NH<tspan dy="3">2</tspan></text><text x="139" y="40">O</text><text x="139" y="79">O</text></g><text class="id" x="9" y="95">C00822</text></g>
<g id="C00355-a" transform="translate(2329,2912)"><rect class="n" width="170" height="105"/><g class="a"><path class="b" d="M41,15V35M44,15V35M42.500,35L20,44M42.500,35L59,45L77,35L93,45L110,35L127,45L149,34M96.500,48V62M112,39L125,48M93,45V64L110,74L127,64L149,73M112,69L125,60"/><path class="h" d="M59,45L63,58"/><text x="42.500" y="20">O</text><text x="20" y="49">HO</text><text x="67" y="69">NH<tspan dy="3">2</tspan></text><text x="149" y="39">OH</text><text x="149" y="78">OH</text></g><text class="id" x="9" y="95">C00355</text></g>
<g id="R01830"><rect class="rx" x="167" y="227" width="81" height="49"/><text class="rt" x="207" y="257">R01830</text></g>
<g id="R01827"><rect class="rx" x="137" y="541" width="79" height="49"/><text class="rt" x="176" y="571">R01827</text></g>
<g id="R01061"><rect class="rx" x="503" y="896" width="81" height="48"/><text class="rt" x="543" y="926">R01061</text></g>
<g id="R01512"><rect class="rx" x="462" y="1212" width="80" height="48"/><text class="rt" x="502" y="1242">R01512</text></g>
<g id="R01518"><rect class="rx" x="329" y="1491" width="80" height="48"/><text class="rt" x="369" y="1521">R01518</text></g>
<g id="R00658"><rect class="rx" x="330" y="1771" width="79" height="48"/><text class="rt" x="369" y="1801">R00658</text></g>
<g id="R01858"><rect class="rx" x="317" y="2072" width="80" height="48"/><text class="rt" x="356" y="2102">R01858</text></g>
<g id="R00341"><rect class="rx" x="662" y="2072" width="80" height="48"/><text class="rt" x="701" y="2102">R00341</text></g>
<g id="R00006"><rect class="rx" x="98" y="2388" width="80" height="47"/><text class="rt" x="137" y="2417">R00006</text></g>
<g id="R00352"><rect class="rx" x="1097" y="2388" width="80" height="47"/><text class="rt" x="1136" y="2417">R00352</text></g>
<g id="R01324"><rect class="rx" x="1097" y="2764" width="80" height="47"/><text class="rt" x="1136" y="2793">R01324</text></g>
<g id="R00267"><rect class="rx" x="1216" y="3117" width="80" height="48"/><text class="rt" x="1255" y="3147">R00267</text></g>
<g id="R00818"><rect class="rx" x="2381" y="228" width="80" height="47"/><text class="rt" x="2420" y="257">R00818</text></g>
<g id="R07709"><rect class="rx" x="2541" y="541" width="80" height="48"/><text class="rt" x="2580" y="571">R07709</text></g>
<g id="R02657"><rect class="rx" x="2245" y="896" width="80" height="48"/><text class="rt" x="2284" y="926">R02657</text></g>
<g id="R07500"><rect class="rx" x="1813" y="1212" width="80" height="48"/><text class="rt" x="1852" y="1242">R07500</text></g>
<g id="R02520"><rect class="rx" x="2280" y="1212" width="80" height="48"/><text class="rt" x="2319" y="1242">R02520</text></g>
<g id="R02521"><rect class="rx" x="1766" y="1491" width="80" height="48"/><text class="rt" x="1805" y="1521">R02521</text></g>
<g id="R03341"><rect class="rx" x="1696" y="1772" width="79" height="47"/><text class="rt" x="1735" y="1801">R03341</text></g>
<g id="R02382"><rect class="rx" x="1840" y="2072" width="80" height="49"/><text class="rt" x="1879" y="2102">R02382</text></g>
<g id="R02383"><rect class="rx" x="2117" y="2388" width="81" height="47"/><text class="rt" x="2157" y="2417">R02383</text></g>
<g id="R02078"><rect class="rx" x="2201" y="2763" width="80" height="48"/><text class="rt" x="2240" y="2793">R02078</text></g>
<g id="R02080"><rect class="rx" x="2374" y="2763" width="79" height="48"/><text class="rt" x="2413" y="2793">R02080</text></g>
</g>
<g id="connectors" class="e">
<path d="M111,167C125,183 150,207 176,227"/>
<path d="M223,143C220,165 216,190 212,227"/>
<path d="M44,169C34,270 38,340 51,395C62,440 72,478 89,502C102,518 120,533 137,545"/>
<path d="M203,276C200,300 196,330 192,361"/>
<path d="M246,276C264,287 277,305 286,324C308,370 320,420 324,459C330,510 329,590 323,676"/>
<path d="M182,456L179,541"/>
<path d="M175.500,590L173.500,637"/>
<path d="M201,590C220,607 238,627 250,643C258,654 263,665 269,676"/>
<path d="M349,810C365,840 395,858 429,877C455,891 478,902 503,910"/>
<path d="M543,830V896"/>
<path d="M747,788C738,818 725,838 709,854C685,880 640,895 585,912"/>
<path d="M518,945C495,975 465,1000 438,1028"/>
<path d="M543,945V1053"/>
<path d="M577,945L640,992"/>
<path d="M424,1128C440,1158 462,1185 484,1211"/>
<path d="M985,1132C950,1153 925,1165 890,1177C810,1203 700,1220 542,1232"/>
<path d="M478,1260L416,1327"/>
<path d="M525,1260C545,1280 565,1300 580,1319"/>
<path d="M369,1424V1490"/>
<path d="M369,1540V1587"/>
<path d="M369,1722L370,1771"/>
<path d="M329,1807C280,1825 235,1848 210,1870C197,1882 187,1897 178,1912"/>
<path d="M411,1815C450,1835 495,1865 525,1889"/>
<path d="M356,2010L356.500,2072"/>
<path d="M524,2003C505,2025 480,2040 456,2051C436,2062 416,2072 398,2080"/>
<path d="M625,2002C642,2025 662,2050 682,2072"/>
<path d="M702,1974V2072"/>
<path d="M830,2000C798,2025 765,2050 735,2072"/>
<path d="M317,2108C270,2123 222,2145 190,2172C180,2182 172,2193 164,2205"/>
<path d="M356.500,2121V2189"/>
<path d="M702,2121V2197"/>
<path d="M743,2108C780,2120 815,2137 842,2153C868,2168 892,2184 914,2204"/>
<path d="M137.500,2301V2387"/>
<path d="M131,2436C122,2470 112,2510 101,2543"/>
<path d="M145,2436C155,2480 172,2530 184,2571"/>
<path d="M990,2304C1005,2322 1018,2338 1032,2350C1052,2367 1075,2380 1097,2390"/>
<path d="M1106,2296C1115,2325 1123,2355 1129,2388"/>
<path d="M1197,2300C1182,2330 1166,2360 1150,2388"/>
<path d="M1333,2308C1285,2335 1230,2362 1178,2391"/>
<path d="M1103,2436C1070,2462 1030,2490 1000,2513C985,2524 970,2534 958,2543"/>
<path d="M1136.500,2436V2536"/>
<path d="M1166,2436C1188,2455 1208,2472 1228,2485"/>
<path d="M1136.500,2661V2763"/>
<path d="M1136.500,2812V2907"/>
<path d="M1176,3022C1195,3055 1217,3088 1240,3116"/>
<path d="M1304,3070C1293,3087 1283,3102 1273,3116"/>
<path d="M1216,3145C1130,3150 1050,3160 1004,3171C950,3182 910,3195 889,3212C865,3240 852,3280 845,3320"/>
<path d="M1238,3166C1228,3182 1217,3198 1206,3213"/>
<path d="M1282,3166C1310,3200 1350,3250 1379,3298"/>
<path d="M1297,3150C1370,3165 1445,3185 1484,3206C1515,3230 1530,3280 1535,3324"/>
<path d="M2239,144C2250,165 2265,178 2283,190C2310,210 2345,225 2381,239"/>
<path d="M2330,121C2345,160 2370,195 2400,227"/>
<path d="M2468,180C2460,196 2450,212 2439,227"/>
<path d="M2727,126C2720,150 2705,170 2684,184C2630,213 2540,232 2461,243"/>
<path d="M2381,264C2350,276 2322,287 2304,300C2280,317 2258,332 2242,350"/>
<path d="M2399,276C2375,315 2345,345 2327,384"/>
<path d="M2438,276C2448,293 2458,308 2470,323"/>
<path d="M2462,258C2540,272 2620,290 2678,314C2700,330 2720,360 2729,384"/>
<path d="M2112,433C2120,460 2135,475 2149,488C2170,505 2200,515 2241,526C2330,545 2440,553 2540,563"/>
<path d="M2239,466C2258,488 2275,498 2297,510C2370,535 2450,547 2540,560"/>
<path d="M2799,488C2750,513 2690,535 2622,553"/>
<path d="M3156,433C3150,460 3138,480 3121,493C3090,515 3060,525 3015,537C2900,553 2760,558 2622,564"/>
<path d="M2540,577C2500,592 2465,610 2438,628C2415,645 2395,662 2378,683"/>
<path d="M2581,590V656"/>
<path d="M2622,576C2670,592 2710,612 2741,640C2760,660 2775,685 2783,711"/>
<path d="M2233,768C2242,800 2255,840 2268,895"/>
<path d="M2324,804C2315,835 2305,865 2298,895"/>
<path d="M2246,945C2215,975 2175,1015 2158,1053"/>
<path d="M2285,945V1001"/>
<path d="M2323,945C2345,965 2360,975 2368,987C2385,1005 2398,1025 2408,1045"/>
<path d="M2302,1154C2305,1175 2307,1195 2313,1211"/>
<path d="M2517,1107C2510,1130 2495,1148 2474,1165C2440,1190 2400,1205 2361,1224"/>
<path d="M2608,1111C2600,1135 2585,1155 2560,1170C2510,1200 2440,1220 2360,1232"/>
<path d="M2288,1260C2260,1290 2225,1305 2198,1331"/>
<path d="M2320,1260V1350"/>
<path d="M1495,1106C1505,1140 1520,1158 1540,1170C1580,1190 1630,1200 1681,1211C1725,1220 1770,1225 1812,1230"/>
<path d="M1641,1124C1660,1150 1680,1167 1702,1181C1735,1200 1775,1215 1812,1225"/>
<path d="M1874,1142C1868,1165 1862,1190 1858,1211"/>
<path d="M1852.500,1260V1325"/>
<path d="M1893,1243C1935,1255 1980,1272 2017,1290C2040,1300 2065,1310 2085,1315"/>
<path d="M2084,1436C2060,1455 2030,1470 1996,1482C1950,1495 1900,1500 1846,1510"/>
<path d="M1601,1404C1615,1430 1630,1442 1653,1458C1685,1478 1725,1492 1766,1505"/>
<path d="M1792,1540C1783,1560 1770,1580 1763,1602"/>
<path d="M1820,1540C1830,1570 1850,1600 1863,1631"/>
<path d="M1735,1708V1771"/>
<path d="M1727,1820C1723,1836 1718,1852 1713,1868"/>
<path d="M1744,1820C1752,1852 1764,1885 1775,1917"/>
<path d="M1725,2013C1740,2035 1790,2062 1840,2083"/>
<path d="M1881,1985V2072"/>
<path d="M1962,1970C1945,2005 1920,2040 1897,2072"/>
<path d="M1858,2121C1833,2152 1805,2180 1782,2212"/>
<path d="M1881,2121V2229"/>
<path d="M1898,2121C1918,2155 1940,2190 1959,2221"/>
<path d="M1780,2296C1795,2318 1810,2330 1830,2342C1900,2380 2000,2398 2117,2410"/>
<path d="M2085,2278C2105,2315 2125,2350 2144,2387"/>
<path d="M2215,2340C2204,2357 2192,2372 2178,2387"/>
<path d="M2488,2279C2480,2305 2465,2328 2448,2340C2400,2375 2300,2388 2198,2404"/>
<path d="M2131,2436C2105,2462 2070,2482 2045,2512"/>
<path d="M2157.500,2436V2567"/>
<path d="M2198,2427C2250,2445 2330,2500 2362,2556"/>
<path d="M1717,2654C1735,2690 1760,2710 1791,2724C1830,2738 1870,2745 1919,2752C2010,2772 2100,2778 2200,2784"/>
<path d="M2252,2624L2243.500,2763"/>
<path d="M2393,2642L2410.500,2763"/>
<path d="M2513,2628C2505,2670 2485,2715 2441,2763"/>
<path d="M2201,2809C2175,2825 2160,2840 2149,2845C2125,2875 2110,2905 2101,2932"/>
<path d="M2239,2812L2232,2910"/>
<path d="M2256,2812C2285,2845 2325,2880 2353,2910"/>
<path d="M2376,2910C2350,2875 2305,2840 2277,2812"/>
<path d="M2414,2812V2910"/>
</g>
</svg>
